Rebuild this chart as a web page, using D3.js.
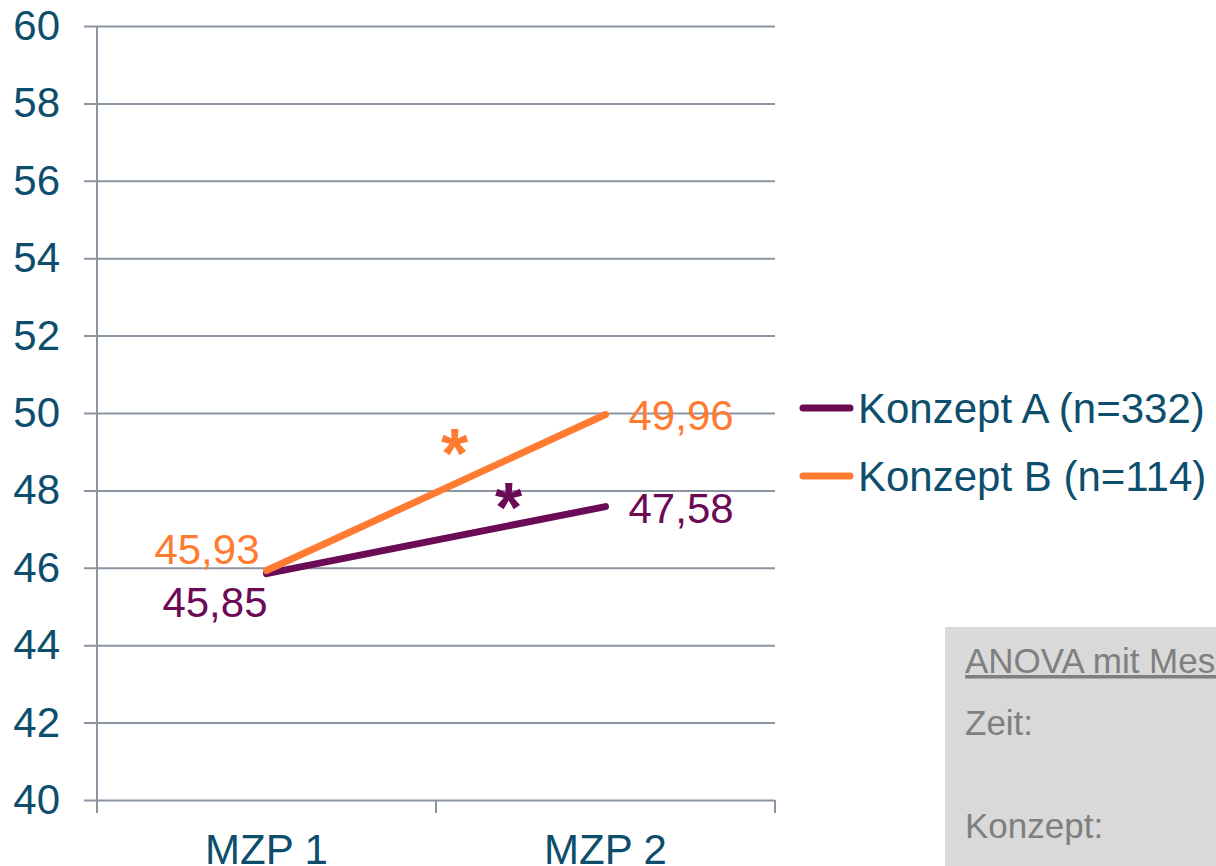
<!DOCTYPE html>
<html>
<head>
<meta charset="utf-8">
<script src="https://cdn.jsdelivr.net/npm/d3@7"></script>
<style>
  html, body { margin: 0; padding: 0; background: #fff; overflow: hidden; }
  text { font-family: "Liberation Sans", Arial, sans-serif; }
</style>
</head>
<body>
<div id="chart"></div>
<script>
// data
var categories = ["MZP 1", "MZP 2"];
var seriesNames = ["Konzept A (n=332)", "Konzept B (n=114)"];
var konzeptA = [45.85, 47.58];
var konzeptB = [45.93, 49.96];
var valueLabels = [["45,85", "47,58"], ["45,93", "49,96"]];
var yTicks = [40, 42, 44, 46, 48, 50, 52, 54, 56, 58, 60];
// significance stars: [fraction between MZP 1 and MZP 2, value]
var starsA = [0.714, 47.91];
var starsB = [0.555, 49.30];
var anovaLines = ["ANOVA mit Messwiederholung", "Zeit:", "Konzept:"];

var width = 1216,
  height = 866,
  plot = { left: 97, right: 775, top: 26, bottom: 800 },
  colours = ["#6c0b55", "#ff7b32"], // purple, orange
  textBlue = "#0d4e6d",
  gridColour = "#8a95a1";

var svg = d3.select('#chart')
  .append('svg')
  .attr('width', width)
  .attr('height', height);

var y = d3.scaleLinear()
  .domain([40, 60])
  .range([plot.bottom, plot.top]);

var xBand = d3.scaleBand()
  .domain(categories)
  .range([plot.left, plot.right])
  .paddingInner(0);

var xPoint = function(i) {
  return xBand(categories[i]) + xBand.bandwidth() / 2;
};

// gridlines + y labels
var yAxis = svg.append('g')
  .attr('transform', 'translate(' + plot.right + ',0)')
  .call(d3.axisLeft(y)
    .tickValues(yTicks)
    .tickSize(plot.right - 84)
    .tickPadding(24)
    .tickFormat(d3.format('d')));
yAxis.select('.domain').remove();
yAxis.selectAll('line')
  .attr('stroke', gridColour)
  .attr('stroke-width', 2);
yAxis.selectAll('text')
  .attr('fill', textBlue)
  .attr('font-size', 42)
  .attr('font-family', '"Liberation Sans", Arial, sans-serif');

// vertical axis line
svg.append('line')
  .attr('x1', plot.left).attr('x2', plot.left)
  .attr('y1', plot.top).attr('y2', plot.bottom + 13)
  .attr('stroke', gridColour)
  .attr('stroke-width', 2);

// x category boundary ticks
var boundaries = categories.map(function(c) { return xBand(c); }).concat([plot.right]);
svg.selectAll('.xtick')
  .data(boundaries)
  .enter()
  .append('line')
  .attr('x1', function(d) { return d; })
  .attr('x2', function(d) { return d; })
  .attr('y1', plot.bottom)
  .attr('y2', plot.bottom + 13)
  .attr('stroke', gridColour)
  .attr('stroke-width', 2);

// x labels
var xAxis = svg.append('g')
  .attr('transform', 'translate(0,' + plot.bottom + ')')
  .call(d3.axisBottom(xBand).tickSize(0).tickPadding(34));
xAxis.select('.domain').remove();
xAxis.selectAll('text')
  .attr('fill', textBlue)
  .attr('font-size', 42)
  .attr('font-family', '"Liberation Sans", Arial, sans-serif');

// lines
var line = d3.line()
  .x(function(d, i) { return xPoint(i); })
  .y(function(d) { return y(d); });

var seriesData = [konzeptA, konzeptB];

svg.selectAll('.series')
  .data(seriesData)
  .enter()
  .append('path')
  .attr('d', line)
  .attr('fill', 'none')
  .attr('stroke', function(d, i) { return colours[i]; })
  .attr('stroke-width', 7)
  .attr('stroke-linecap', 'round');

// value labels
function label(text, xPos, yPos, anchor, colour) {
  svg.append('text')
    .attr('x', xPos)
    .attr('y', yPos)
    .attr('text-anchor', anchor)
    .attr('fill', colour)
    .attr('font-size', 42)
    .text(text);
}
label(valueLabels[0][0], xPoint(0) + 1, y(konzeptA[0]) + 43, 'end', colours[0]);
label(valueLabels[1][0], xPoint(0) - 7, y(konzeptB[0]) - 7, 'end', colours[1]);
label(valueLabels[0][1], xPoint(1) + 23, y(konzeptA[1]) + 16, 'start', colours[0]);
label(valueLabels[1][1], xPoint(1) + 23, y(konzeptB[1]) + 15, 'start', colours[1]);

// stars
function star(s, colour) {
  var xs = xPoint(0) + s[0] * (xPoint(1) - xPoint(0));
  svg.append('text')
    .attr('x', xs)
    .attr('y', y(s[1]) + 38)
    .attr('text-anchor', 'middle')
    .attr('fill', colour)
    .attr('font-size', 70)
    .attr('font-weight', 'bold')
    .text('*');
}
star(starsA, colours[0]);
star(starsB, colours[1]);

// legend
var legend = svg.selectAll('.legend')
  .data(seriesNames)
  .enter()
  .append('g')
  .attr('transform', function(d, i) { return 'translate(800,' + (408 + i * 68) + ')'; });

legend.append('line')
  .attr('x1', 3).attr('x2', 50)
  .attr('y1', 0).attr('y2', 0)
  .attr('stroke', function(d, i) { return colours[i]; })
  .attr('stroke-width', 7)
  .attr('stroke-linecap', 'round');

legend.append('text')
  .attr('x', 58)
  .attr('y', 15)
  .attr('fill', textBlue)
  .attr('font-size', 42)
  .text(function(d) { return d; });

// ANOVA box
svg.append('rect')
  .attr('x', 945).attr('y', 627)
  .attr('width', width - 945).attr('height', height - 627)
  .attr('fill', '#d9d9d9');

var anovaY = [673, 735, 838];
svg.selectAll('.anova')
  .data(anovaLines)
  .enter()
  .append('text')
  .attr('x', 965)
  .attr('y', function(d, i) { return anovaY[i]; })
  .attr('fill', '#7f7f7f')
  .attr('font-size', 35)
  .attr('text-decoration', function(d, i) { return i === 0 ? 'underline' : null; })
  .text(function(d) { return d; });
</script>
</body>
</html>
